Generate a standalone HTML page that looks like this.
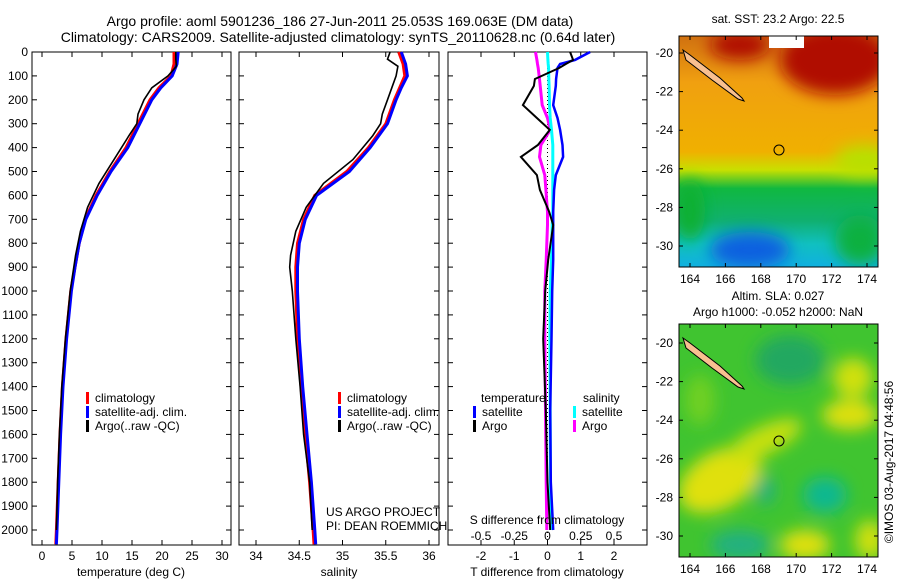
<!DOCTYPE html>
<html><head><meta charset="utf-8">
<style>
body{margin:0;background:#fff;}
#wrap{position:relative;width:900px;height:580px;overflow:hidden;font-family:"Liberation Sans",sans-serif;}
svg text{font-family:"Liberation Sans",sans-serif;font-size:12px;fill:#000;}
</style></head>
<body>
<div id="wrap">
<svg id="fig" width="900" height="580" xmlns="http://www.w3.org/2000/svg">
<defs>
<linearGradient id="sstg" x1="0" y1="0" x2="0" y2="1">
<stop offset="0" stop-color="#d07010"/><stop offset="0.2" stop-color="#f0a010"/>
<stop offset="0.5" stop-color="#f0b000"/><stop offset="0.58" stop-color="#c8e000"/>
<stop offset="0.66" stop-color="#10b840"/><stop offset="0.8" stop-color="#10b070"/>
<stop offset="0.9" stop-color="#10c0c0"/><stop offset="1" stop-color="#10b0e0"/>
</linearGradient>
<filter id="blur" x="-20%" y="-20%" width="140%" height="140%"><feGaussianBlur stdDeviation="8"/></filter>
<clipPath id="c1"><rect x="679" y="36" width="199" height="231"/></clipPath>
<clipPath id="c2"><rect x="679" y="324" width="199" height="233"/></clipPath>
</defs>
<text x="340" y="26" text-anchor="middle" style="font-size:14px">Argo profile: aoml 5901236_186 27-Jun-2011 25.053S 169.063E (DM data)</text>
<text x="338" y="42" text-anchor="middle" style="font-size:14px">Climatology: CARS2009. Satellite-adjusted climatology: synTS_20110628.nc (0.64d later)</text>
<g id="plots"></g>

<!-- SST map -->
<g clip-path="url(#c1)">
<rect x="679" y="36" width="199" height="231" fill="url(#sstg)"/>
<g filter="url(#blur)">
<ellipse cx="835" cy="60" rx="55" ry="35" fill="#b01000"/>
<ellipse cx="740" cy="45" rx="30" ry="15" fill="#b01000"/>
<ellipse cx="865" cy="160" rx="30" ry="15" fill="#b8e000"/>
<ellipse cx="750" cy="250" rx="40" ry="18" fill="#1060e0"/>
<ellipse cx="690" cy="210" rx="15" ry="30" fill="#10b030"/>
<ellipse cx="860" cy="240" rx="25" ry="25" fill="#10b040"/>
</g>
<rect x="769" y="36" width="35" height="12" fill="#fff"/>
<polygon points="683,50 690,55 720,78 742,98 744,101 738,99 712,80 686,60" fill="#f8c090" stroke="#000" stroke-width="1"/>
<circle cx="779" cy="150" r="5" fill="none" stroke="#000"/>
</g>
<rect x="679" y="36" width="199" height="231" fill="none" stroke="#000"/>
<text x="778" y="23" text-anchor="middle">sat. SST: 23.2 Argo: 22.5</text>

<!-- SLA map -->
<g clip-path="url(#c2)">
<rect x="679" y="324" width="199" height="233" fill="#40c430"/>
<g filter="url(#blur)">
<ellipse cx="720" cy="480" rx="45" ry="28" fill="#e0e010" transform="rotate(-30 720 480)"/>
<ellipse cx="765" cy="440" rx="40" ry="14" fill="#c8e010" transform="rotate(-25 765 440)"/>
<ellipse cx="850" cy="415" rx="28" ry="15" fill="#e0e010"/>
<ellipse cx="853" cy="378" rx="20" ry="20" fill="#d0e010"/>
<ellipse cx="825" cy="495" rx="22" ry="18" fill="#10b890"/>
<ellipse cx="765" cy="490" rx="10" ry="15" fill="#20b080"/>
<ellipse cx="740" cy="545" rx="30" ry="15" fill="#20b080"/>
<ellipse cx="805" cy="545" rx="25" ry="15" fill="#e0e010"/>
<ellipse cx="790" cy="360" rx="35" ry="25" fill="#20a860"/>
<ellipse cx="700" cy="400" rx="15" ry="25" fill="#70d020"/>
<ellipse cx="870" cy="540" rx="15" ry="20" fill="#d0e010"/>
</g>
<polygon points="683,338 690,343 720,366 742,386 744,389 738,387 712,368 686,348" fill="#f8c090" stroke="#000" stroke-width="1"/>
<circle cx="779" cy="441" r="5" fill="none" stroke="#000"/>
</g>
<rect x="679" y="324" width="199" height="233" fill="none" stroke="#000"/>
<text x="778" y="300" text-anchor="middle">Altim. SLA: 0.027</text>
<text x="778" y="316" text-anchor="middle">Argo h1000: -0.052 h2000: NaN</text>
<text transform="translate(893,462) rotate(-90)" text-anchor="middle">©IMOS 03-Aug-2017 04:48:56</text>
<g id="maps"></g>
</svg>
</div>
<script>
// ---------- data ----------
const depthTicks=[0,100,200,300,400,500,600,700,800,900,1000,1100,1200,1300,1400,1500,1600,1700,1800,1900,2000];
const tTicks=[0,5,10,15,20,25,30];
const sTicks=[34,34.5,35,35.5,36];
const tdTicks=[-2,-1,0,1,2];
const sdTicks=[-0.5,-0.25,0,0.25,0.5];
const sdTickLabels=["-0.5","-0.25","0","0.25","0.5"];
const latTicks=[-20,-22,-24,-26,-28,-30];
const lonTicks=[164,166,168,170,172,174];

const depClim=[0,50,100,150,200,300,400,500,600,700,800,900,1000,1200,1400,1600,1800,2000,2060];
const tClim=[22.0,22.0,21.5,19.5,18.0,16.0,14.0,11.3,9.0,7.2,6.2,5.5,4.8,4.0,3.4,3.0,2.7,2.4,2.3];
const tSat=[22.7,22.5,21.7,19.8,18.3,16.3,14.3,11.5,9.2,7.3,6.2,5.5,4.9,4.1,3.5,3.1,2.8,2.5,2.4];
const sClim=[35.65,35.70,35.72,35.66,35.60,35.50,35.30,35.05,34.68,34.55,34.48,34.46,34.46,34.48,34.52,34.57,34.62,34.66,34.67];
const sSat=[35.68,35.73,35.75,35.68,35.62,35.52,35.32,35.08,34.70,34.57,34.50,34.48,34.48,34.50,34.54,34.59,34.64,34.68,34.69];
const depArgo=[0,30,60,100,150,200,260,300,350,450,550,650,750,850,900,1000,1200,1400,1600,1800,2000];
const tArgo=[22.3,22.3,22.4,21.0,18.3,17.0,16.0,15.8,14.5,12.0,9.5,7.6,6.4,5.6,5.3,4.7,3.9,3.3,2.9,2.6,2.4];
const sArgo=[35.55,35.52,35.64,35.62,35.57,35.52,35.46,35.44,35.35,35.12,34.78,34.58,34.46,34.40,34.39,34.42,34.46,34.51,34.55,34.62,34.65];

const depDiff=[0,33,50,67,113,142,222,276,326,389,439,515,577,669,724,870,1000,1200,1500,1800,2000];
const tDiffArgo=[0.68,0.77,0.55,0.35,-0.38,-0.41,-0.74,-0.32,0.07,-0.29,-0.80,-0.32,-0.23,0.05,0.17,0.02,-0.07,-0.13,-0.05,0.0,0.08];
const tDiffSat=[1.28,0.83,0.38,0.30,0.26,0.25,0.17,0.30,0.38,0.45,0.47,0.25,0.20,0.17,0.17,0.17,0.14,0.12,0.08,0.10,0.17];
const sDiffSat=[0.0,0.003,0.005,0.008,0.01,0.012,0.015,0.02,0.03,0.04,0.04,0.04,0.04,0.04,0.035,0.03,0.02,0.018,0.02,0.022,0.025];
const sDiffArgo=[-0.09,-0.08,-0.075,-0.07,-0.06,-0.055,-0.04,0.0,0.02,-0.05,-0.06,-0.02,-0.012,0.0,0.0,-0.01,-0.02,-0.02,-0.015,-0.01,-0.005];

// ---------- geometry ----------
const NS="http://www.w3.org/2000/svg";
const Y0=52, PXD=0.239, YB=545;
function yD(d){return Y0+d*PXD;}
function xT(v){return 42+6*v;}
function xS(v){return 256+86.5*(v-34);}
function xTd(v){return 547.5+33.25*v;}
function xSd(v){return 547.5+133*v;}
const g=document.getElementById('plots');
function el(tag,attrs,parent){const e=document.createElementNS(NS,tag);for(const k in attrs)e.setAttribute(k,attrs[k]);(parent||g).appendChild(e);return e;}
function txt(x,y,s,anchor){const e=el('text',{x:x,y:y,'text-anchor':anchor||'middle'});e.textContent=s;return e;}

const panels=[{x0:32,x1:231,name:'temperature-panel'},{x0:239,x1:439,name:'salinity-panel'},{x0:448,x1:647,name:'difference-panel'}];
panels.forEach(p=>{
  const r=el('rect',{x:p.x0,y:Y0,width:p.x1-p.x0,height:YB-Y0,fill:'none',stroke:'#000','stroke-width':1});
  
  
  depthTicks.forEach(d=>{
    el('line',{x1:p.x0,x2:p.x0+5,y1:yD(d),y2:yD(d),stroke:'#000'});
    el('line',{x1:p.x1-5,x2:p.x1,y1:yD(d),y2:yD(d),stroke:'#000'});
  });
});
depthTicks.forEach(d=>{
  const t=txt(28,yD(d)+4,String(d),'end');
  
  
});
function xticks(vals,fx,labels,ly,top){
  vals.forEach((v,i)=>{
    const x=fx(v);
    el('line',{x1:x,x2:x,y1:YB,y2:YB-5,stroke:'#000'});
    if(top) el('line',{x1:x,x2:x,y1:Y0,y2:Y0+5,stroke:'#000'});
    const t=txt(x,ly,labels?labels[i]:String(v));
    
    
  });
}
xticks(tTicks,xT,null,560,true);
xticks(sTicks,xS,null,560,true);
xticks(tdTicks,xTd,null,560,true);
sdTicks.forEach((v,i)=>{const t=txt(xSd(v),540,sdTickLabels[i]);
  
  });

function line(xs,ds,fx,color,w,name){
  const pts=xs.map((v,i)=>fx(v).toFixed(1)+','+yD(ds[i]).toFixed(1)).join(' ');
  const pl=el('polyline',{points:pts,fill:'none',stroke:color,'stroke-width':w,'stroke-linejoin':'miter'});
  
  
}
line(tClim,depClim,xT,'#f00',3,'temp-climatology-line');
line(tSat,depClim,xT,'#00f',3,'temp-satellite-line');
line(tArgo,depArgo,xT,'#000',1.6,'temp-argo-line');
line(sClim,depClim,xS,'#f00',3,'sal-climatology-line');
line(sSat,depClim,xS,'#00f',3,'sal-satellite-line');
line(sArgo,depArgo,xS,'#000',1.6,'sal-argo-line');
el('line',{x1:xTd(0),x2:xTd(0),y1:Y0,y2:YB,stroke:'#000','stroke-dasharray':'1,3'});
line(sDiffArgo,depDiff,xSd,'#f0f',3,'sdiff-argo-line');
line(sDiffSat,depDiff,xSd,'#0ff',3,'sdiff-satellite-line');
line(tDiffSat,depDiff,xTd,'#00f',2.5,'tdiff-satellite-line');
line(tDiffArgo,depDiff,xTd,'#000',2,'tdiff-argo-line');

[[131,576,'temperature (deg C)','temp-x-axis-title'],[339,576,'salinity','sal-x-axis-title'],[547,576,'T difference from climatology','tdiff-x-axis-title'],[547,524,'S difference from climatology','sdiff-x-axis-title']].forEach(a=>{
  const t=txt(a[0],a[1],a[2]);
  
  
});
function legend(x,y,color,label){
  el('rect',{x:x,y:y-10,width:3,height:12,fill:color});
  const t=txt(x+9,y,label,'start');
  
  
}
legend(86,402,'#f00','climatology');legend(86,416,'#00f','satellite-adj. clim.');legend(86,430,'#000','Argo(..raw -QC)');
legend(338,402,'#f00','climatology');legend(338,416,'#00f','satellite-adj. clim.');legend(338,430,'#000','Argo(..raw -QC)');
txt(481,402,'temperature','start');txt(583,402,'salinity','start');
legend(473,416,'#00f','satellite');legend(473,430,'#000','Argo');
legend(573,416,'#0ff','satellite');legend(573,430,'#f0f','Argo');
txt(326,516,'US ARGO PROJECT','start');txt(326,530,'PI: DEAN ROEMMICH','start');

const m=document.getElementById('maps');
function mapAxes(top,bot,y20,y30){
  lonTicks.forEach(v=>{const x=690+(v-164)*17.7;
    el('line',{x1:x,x2:x,y1:bot,y2:bot-4,stroke:'#000'},m);el('line',{x1:x,x2:x,y1:top,y2:top+4,stroke:'#000'},m);
    const t=el('text',{x:x,y:bot+16,'text-anchor':'middle'},m);t.textContent=String(v);
    
    });
  latTicks.forEach(v=>{const y=y20+(v+20)/-10*(y30-y20);
    el('line',{x1:679,x2:683,y1:y,y2:y,stroke:'#000'},m);el('line',{x1:874,x2:878,y1:y,y2:y,stroke:'#000'},m);
    const t=el('text',{x:673,y:y+4,'text-anchor':'end'},m);t.textContent=String(v);
    
    });
}
mapAxes(36,267,53,246);
mapAxes(324,557,343,536);
</script>
</body></html>
